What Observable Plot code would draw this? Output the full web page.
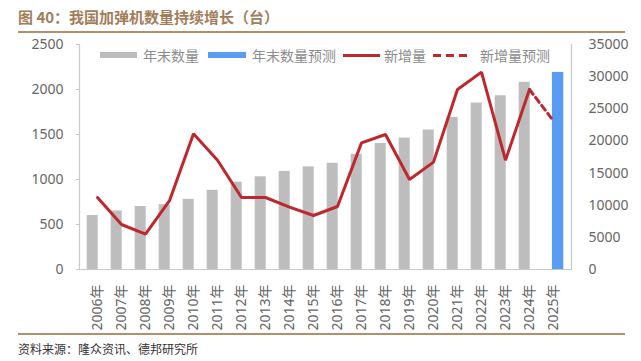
<!DOCTYPE html>
<html>
<head>
<meta charset="utf-8">
<script src="https://cdn.jsdelivr.net/npm/d3@7"></script>
<script src="https://cdn.jsdelivr.net/npm/@observablehq/plot@0.6"></script>
<style>
  html, body { margin: 0; padding: 0; background: #fff; }
  #page { position: relative; width: 641px; height: 361px; overflow: hidden; background: #fff;
          font-family: "Noto Sans CJK SC", "Noto Sans", sans-serif; }
  #title { position: absolute; left: 18px; top: 8px; font-size: 15px; line-height: 18px; font-weight: bold; color: #a27d5a; white-space: nowrap; }
  #topline { position: absolute; left: 18px; top: 31px; width: 607px; height: 2px; background: #b48f6c; }
  #chart { position: absolute; left: 0; top: 33px; }
  #bottomline { position: absolute; left: 18px; top: 333px; width: 607px; height: 1.5px; background: #b48f6c; }
  #source { position: absolute; left: 18px; top: 341px; font-size: 12px; line-height: 16px; color: #333; white-space: nowrap; }
  .lg { position: absolute; top: 46px; font-size: 14px; line-height: 18px; color: #8c8c8c; white-space: nowrap; }
  .sw { position: absolute; }
</style>
</head>
<body>
<div id="page">
  <div id="title">图 40：我国加弹机数量持续增长（台）</div>
  <div id="topline"></div>
  <div id="chart"></div>
  <div id="legend"></div>
  <div id="bottomline"></div>
  <div id="source">资料来源：隆众资讯、德邦研究所</div>
</div>
<script>
// ---- data ----
const years = ["2006年","2007年","2008年","2009年","2010年","2011年","2012年","2013年","2014年","2015年",
               "2016年","2017年","2018年","2019年","2020年","2021年","2022年","2023年","2024年","2025年"];
// 年末数量 (left axis), 2006-2024
const stockYears = years.slice(0, 19);
const stockValues = [600, 650, 700, 720, 780, 880, 970, 1030, 1090, 1140,
                     1180, 1280, 1400, 1460, 1550, 1690, 1850, 1930, 2080];
// 年末数量预测
const stockForecastYears = ["2025年"];
const stockForecastValues = [2190];
// 新增量 (right axis), 2006-2024
const addedYears = years.slice(0, 19);
const addedValues = [11200, 7000, 5500, 10700, 21100, 17000, 11200, 11200, 9700, 8400,
                     9800, 19700, 21000, 14000, 16700, 28000, 30700, 17000, 28000];
// 新增量预测
const addedForecastYears = ["2024年", "2025年"];
const addedForecastValues = [28000, 23100];

const leftTicks = [0, 500, 1000, 1500, 2000, 2500];
const rightTicks = [0, 5000, 10000, 15000, 20000, 25000, 30000, 35000];

const legendLabels = ["年末数量", "年末数量预测", "新增量", "新增量预测"];

// ---- colors ----
const grayBar = "#bdbdbd", blueBar = "#5a9cf2", red = "#c0272d", axisGray = "#c8c8c8", tickText = "#666666";

const k = 2500 / 35000;
const stockData = stockYears.map((y, i) => ({year: y, v: stockValues[i]}));
const stockFcData = stockForecastYears.map((y, i) => ({year: y, v: stockForecastValues[i]}));
const addedData = addedYears.map((y, i) => ({year: y, v: addedValues[i] * k}));
const addedFcData = addedForecastYears.map((y, i) => ({year: y, v: addedForecastValues[i] * k}));

const chart = Plot.plot({
  width: 641, height: 298,
  marginTop: 11, marginBottom: 62, marginLeft: 79, marginRight: 70,
  style: {fontFamily: "'Noto Sans', 'Noto Sans CJK SC', sans-serif", fontSize: "14px", color: tickText, background: "transparent"},
  x: {domain: years, padding: 0, label: null},
  y: {domain: [0, 2500], label: null},
  marks: [
    Plot.barY(stockData, {x: "year", y: "v", fill: grayBar, insetLeft: 1.7, insetRight: 11.3}),
    Plot.barY(stockFcData, {x: "year", y: "v", fill: blueBar, insetLeft: 10.9, insetRight: 1.7}),
    Plot.ruleY([0], {stroke: axisGray, strokeWidth: 1.2}),
    Plot.frame({anchor: "left", stroke: axisGray, strokeWidth: 1.2}),
    Plot.frame({anchor: "right", stroke: axisGray, strokeWidth: 1.2}),
    Plot.lineY(addedData, {x: "year", y: "v", stroke: red, strokeWidth: 3, strokeLinejoin: "miter"}),
    Plot.lineY(addedFcData, {x: "year", y: "v", stroke: red, strokeWidth: 3, strokeDasharray: "6,4"}),
    Plot.axisY(leftTicks, {anchor: "left", tickSize: 3, tickPadding: 13, tickFormat: d => String(d), stroke: axisGray, fill: tickText, fontSize: 14, label: null}),
    Plot.text(rightTicks, {y: d => d * k, text: d => String(d), frameAnchor: "right", textAnchor: "start", dx: 17, fill: tickText, fontSize: 14}),
    Plot.axisX({tickRotate: -90, tickSize: 0, tickPadding: 15, fill: tickText, fontSize: 14, label: null})
  ]
});
document.getElementById("chart").appendChild(chart);

// ---- legend ----
const lg = document.getElementById("legend");
const items = [
  {sw: {left: 100, width: 37, type: "bar", color: grayBar}, textLeft: 143},
  {sw: {left: 208, width: 38, type: "bar", color: blueBar}, textLeft: 252},
  {sw: {left: 343, width: 37, type: "line", color: red}, textLeft: 384},
  {sw: {left: 433, width: 39, type: "dash", color: red}, textLeft: 480}
];
items.forEach((it, i) => {
  const s = document.createElement("div");
  s.className = "sw";
  s.style.left = it.sw.left + "px";
  s.style.width = it.sw.width + "px";
  if (it.sw.type === "bar") {
    s.style.top = "52px"; s.style.height = "6px"; s.style.background = it.sw.color;
  } else if (it.sw.type === "line") {
    s.style.top = "54px"; s.style.height = "3px"; s.style.background = it.sw.color;
  } else {
    s.style.top = "54px"; s.style.height = "3px";
    s.style.background = `repeating-linear-gradient(90deg, ${it.sw.color} 0 8px, transparent 8px 13px)`;
  }
  lg.appendChild(s);
  const t = document.createElement("div");
  t.className = "lg";
  t.style.left = it.textLeft + "px";
  t.textContent = legendLabels[i];
  lg.appendChild(t);
});
</script>
</body>
</html>
